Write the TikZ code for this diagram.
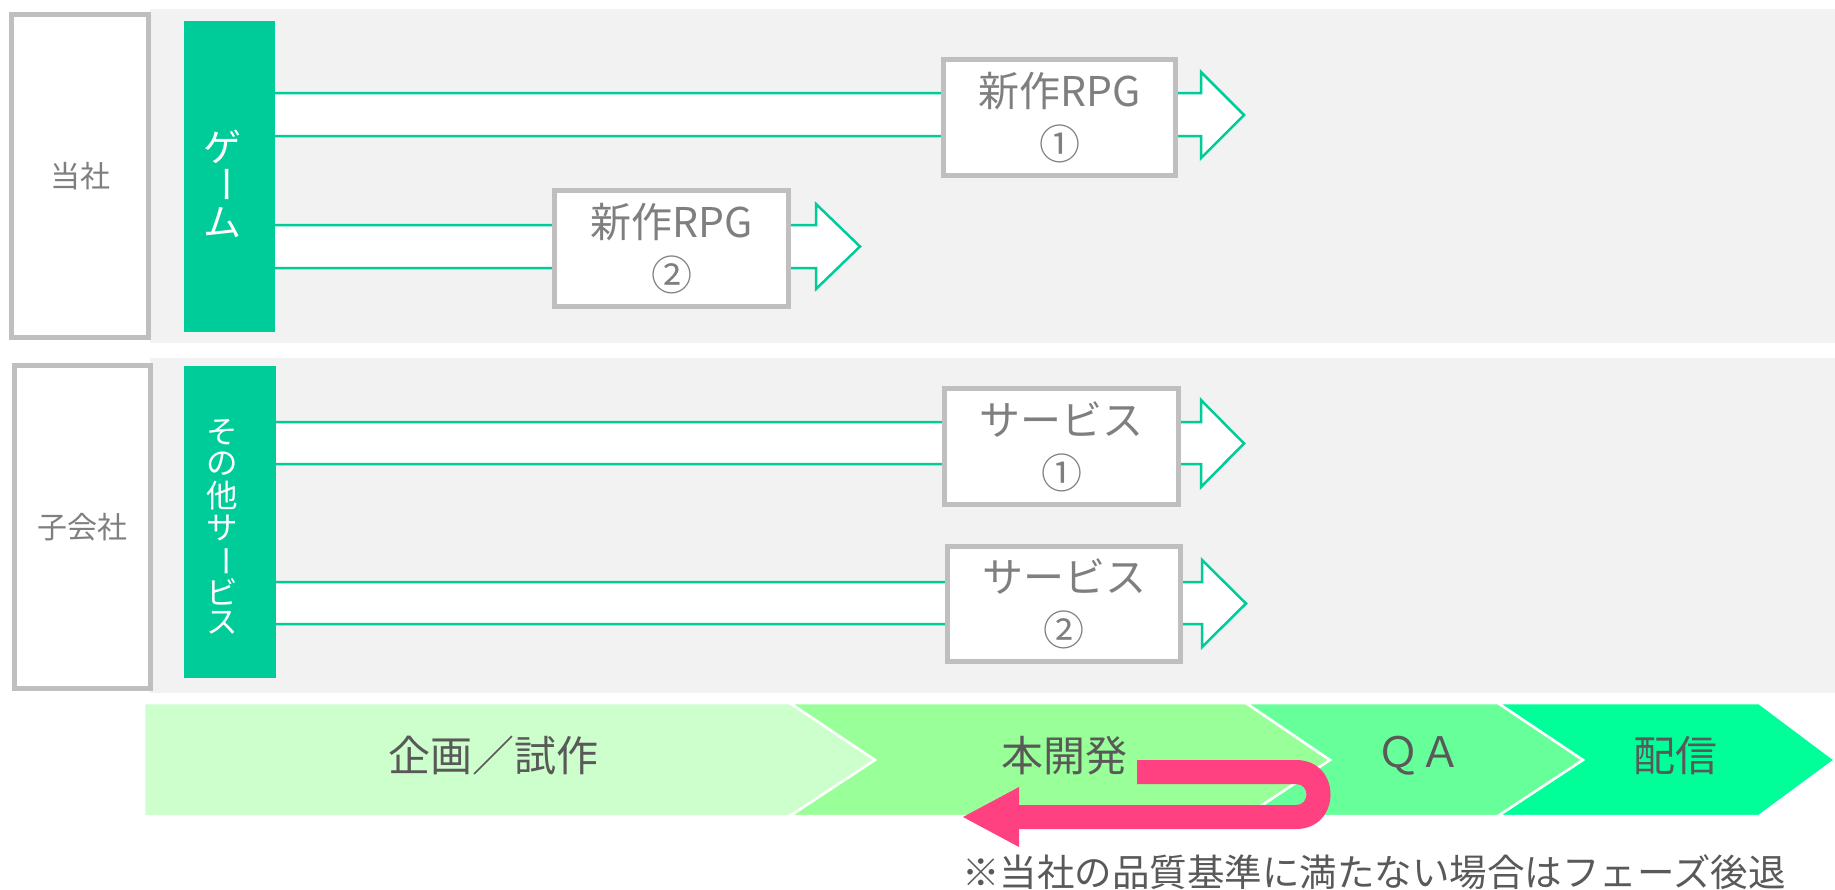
\documentclass[tikz,border=0pt]{standalone}
\usepackage{fontspec}
\newfontfamily\jp{Noto Sans CJK JP}
\definecolor{bandgray}{HTML}{F2F2F2}
\definecolor{boxgray}{HTML}{BFBFBF}
\definecolor{txtgray}{HTML}{7F7F7F}
\definecolor{darktxt}{HTML}{595959}
\definecolor{barGreen}{HTML}{00CC99}
\definecolor{phA}{HTML}{CCFFCC}
\definecolor{phB}{HTML}{99FF99}
\definecolor{phC}{HTML}{66FF99}
\definecolor{phD}{HTML}{00FF99}
\definecolor{pinkArrow}{HTML}{FF4081}
\newcommand\blkarrow[7]{\draw[blockarrow] (#1,#4) -- (#2,#4) -- (#2,#6) -- (#3,{(#6+#7)/2}) -- (#2,#7) -- (#2,#5) -- (#1,#5) -- cycle;}
\tikzset{
  blockarrow/.style={draw=barGreen, line width=2.5pt, fill=white, line join=miter},
  orgbox/.style={draw=boxgray, line width=5pt, fill=white, text=txtgray, font=\jp\fontsize{30}{36}\selectfont, inner sep=0pt},
  itembox/.style={draw=boxgray, line width=5pt, fill=white, text=txtgray, align=center, font=\jp\fontsize{41}{53}\selectfont, inner sep=0pt},
  catbar/.style={fill=barGreen, draw=none, inner sep=0pt},
  vcharA/.style={text=white, inner sep=0pt, font=\jp\fontsize{38}{38}\selectfont},
  vcharB/.style={text=white, inner sep=0pt, font=\jp\fontsize{31.5}{31.5}\selectfont},
  phase/.style={draw=white, line width=2.5pt, line join=miter},
  phaselabel/.style={text=darktxt, font=\jp\fontsize{42}{50}\selectfont, inner sep=0pt},
}
\begin{document}
\begin{tikzpicture}[x=1pt,y=-1pt]
\useasboundingbox (0,0) rectangle (1835,889);
% gray bands
\fill[bandgray] (150,9) rectangle (1835,343);
\fill[bandgray] (150,358) rectangle (1835,693);
% block arrows
\blkarrow{260}{1201}{1244}{93}{136}{72}{158}
\blkarrow{260}{816}{860}{225}{268}{204}{289}
\blkarrow{260}{1201}{1244}{422}{464}{400}{487}
\blkarrow{260}{1202}{1246}{582}{624}{560}{647}
% category bars
\node[catbar, minimum width=91pt, minimum height=311pt] (bar1) at (229.5,176.5) {};
\node[vcharA] (g1) at (222,147) {ゲ};
\node[vcharA, rotate=-90] (g2) at (221,184) {ー};
\node[vcharA] (g3) at (222,223) {ム};
\node[catbar, minimum width=92pt, minimum height=312pt] (bar2) at (230,522) {};
\node[vcharB] (s1) at (222,432) {そ};
\node[vcharB] (s2) at (222,464) {の};
\node[vcharB] (s3) at (222,496) {他};
\node[vcharB] (s4) at (222,528) {サ};
\node[vcharB, rotate=-90] (s5) at (221,561) {ー};
\node[vcharB] (s6) at (222,592) {ビ};
\node[vcharB] (s7) at (222,623) {ス};
% organisation boxes
\node[orgbox, minimum width=137pt, minimum height=323pt] (tousha) at (80,176) {当社};
\node[orgbox, minimum width=136pt, minimum height=323pt] (kogaisha) at (82.5,527) {子会社};
% item boxes
\node[itembox, minimum width=232pt, minimum height=116pt] (rpg1) at (1059.5,117.5) {新作RPG\\①};
\node[itembox, minimum width=234pt, minimum height=116pt] (rpg2) at (671.5,248.5) {新作RPG\\②};
\node[itembox, minimum width=234pt, minimum height=116pt] (svc1) at (1061.5,446.5) {サービス\\①};
\node[itembox, minimum width=233pt, minimum height=115pt] (svc2) at (1064,604) {サービス\\②};
% phase chevrons
\filldraw[phase, fill=phA] (144,703) -- (790,703) -- (875,760) -- (790,816) -- (144,816) -- cycle;
\filldraw[phase, fill=phB] (790,703) -- (1246,703) -- (1330,760) -- (1246,816) -- (790,816) -- (875,760) -- cycle;
\filldraw[phase, fill=phC] (1246,703) -- (1498,703) -- (1583,760) -- (1498,816) -- (1246,816) -- (1330,760) -- cycle;
\filldraw[phase, fill=phD] (1498,703) -- (1759,703) -- (1835,760) -- (1759,816) -- (1498,816) -- (1583,760) -- cycle;
\node[phaselabel] (p1) at (493,756) {企画／試作};
\node[phaselabel] (p2) at (1064,756) {本開発};
\node[phaselabel] (p3) at (1419,756) {ＱＡ};
\node[phaselabel] (p4) at (1675,756) {配信};
% pink U-turn arrow
\fill[pinkArrow] (1137,760) -- (1296,760) .. controls (1342,760) and (1342,829) .. (1296,829)
  -- (1019,829) -- (1019,847) -- (963,817) -- (1019,787) -- (1019,805) -- (1296,805)
  .. controls (1310,805) and (1310,784) .. (1296,784) -- (1137,784) -- cycle;
% note
\node[text=darktxt, font=\jp\fontsize{37.5}{40}\selectfont, inner sep=0pt] (note) at (1374,872) {※当社の品質基準に満たない場合はフェーズ後退};
\end{tikzpicture}
\end{document}
